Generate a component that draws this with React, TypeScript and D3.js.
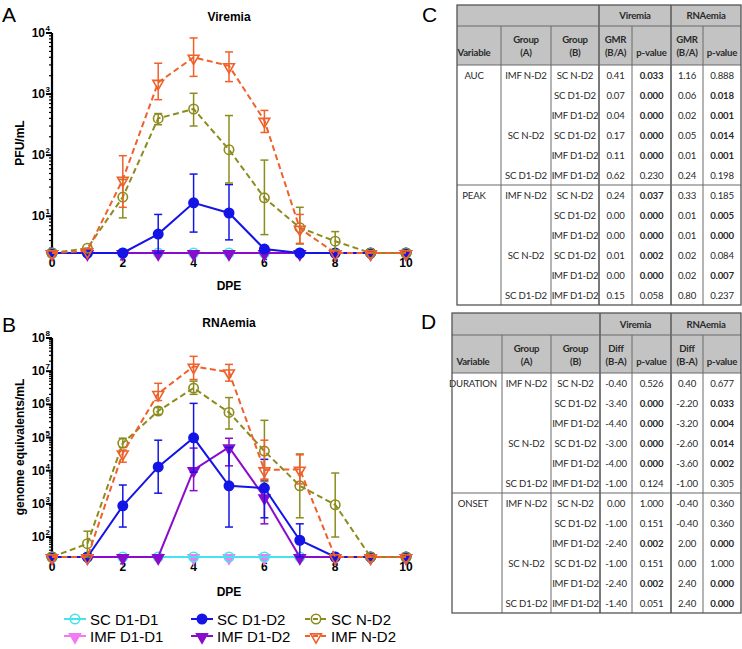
import React from 'react';
import * as d3 from 'd3';

// ---------- DATA ----------
const days = [0, 1, 2, 3, 4, 5, 6, 7, 8, 9, 10];
const LOD_A = 2.5;
const LOD_B = 25;

// Viremia (PFU/mL)
const virSCD1D1 = [2.5, 2.5, 2.5, 2.5, 2.5, 2.5, 2.5, 2.5, 2.5, 2.5, 2.5];
const virIMFD1D1 = [2.5, 2.5, 2.5, 2.5, 2.5, 2.5, 2.5, 2.5, 2.5, 2.5, 2.5];
const virSCD1D2 = [2.5, 2.5, 2.5, 5.1, 16.6, 11.3, 2.9, 2.5, 2.5, 2.5, 2.5];
const virSCD1D2Hi = [null, null, null, 10.7, 49, 33, 3.2, null, null, null, null];
const virSCD1D2Lo = [null, null, null, 2.5, 5.5, 4.1, 2.6, null, null, null, null];
const virIMFD1D2 = [2.5, 2.5, 2.5, 2.5, 2.5, 2.5, 2.5, 2.5, 2.5, 2.5, 2.5];
const virSCND2 = [2.5, 3, 20.6, 400, 570, 123, 20, 6.5, 3.9, 2.5, 2.5];
const virSCND2Hi = [null, null, 40, 480, 1030, 445, 83, 14, 5.6, null, null];
const virSCND2Lo = [null, null, 9.4, 315, 300, 35, 5, 3.5, 2.8, null, null];
const virIMFND2 = [2.5, 2.7, 40, 1550, 4000, 2900, 370, 6.3, 2.5, 2.5, 2.5];
const virIMFND2Hi = [null, null, 98, 3200, 8300, 4900, 540, 10.7, null, null, null];
const virIMFND2Lo = [null, null, 14, 810, 1950, 1600, 235, 3.6, null, null, null];

// RNAemia (genome equivalents/mL)
const rnaSCD1D1 = [25, 25, 25, 25, 25, 25, 25, 25, 25, 25, 25];
const rnaIMFD1D1 = [25, 25, 25, 25, 25, 25, 25, 25, 25, 25, 25];
const rnaSCD1D2 = [25, 25, 870, 13000, 98000, 3500, 3000, 80, 25, 25, 25];
const rnaSCD1D2Hi = [null, null, 3700, 83000, 1070000, 50000, 22000, 250, null, null, null];
const rnaSCD1D2Lo = [null, null, 200, 2100, 9000, 200, 380, 25, null, null, null];
const rnaIMFD1D2 = [25, 25, 25, 25, 10500, 51000, 1600, 25, 25, 25, 25];
const rnaIMFD1D2Hi = [null, null, null, null, 48000, 95000, 5200, null, null, null, null];
const rnaIMFD1D2Lo = [null, null, null, null, 2500, 14000, 250, null, null, null, null];
const rnaSCND2 = [25, 63, 68000, 630000, 3100000, 570000, 39000, 3500, 940, 25, 25];
const rnaSCND2Hi = [null, 150, 95000, 800000, 5000000, 1600000, 330000, 32000, 8500, null, null];
const rnaSCND2Lo = [null, 25, 50000, 500000, 2000000, 180000, 4700, 380, 100, null, null];
const rnaIMFND2 = [25, 25, 34000, 2100000, 14000000, 9400000, 10500, 11000, 25, 25, 25];
const rnaIMFND2Hi = [null, null, 42000, 4300000, 28000000, 16000000, 83000, 30000, null, null, null];
const rnaIMFND2Lo = [null, null, 18000, 1300000, 5600000, 5000000, 5600, 4000, null, null, null];

const xTickLabels = [0, 2, 4, 6, 8, 10];
const yMajorA = [1, 2, 3, 4];
const yMajorB = [2, 3, 4, 5, 6, 7, 8];

// Tables
const groupA = ['IMF N-D2', '', '', 'SC N-D2', '', 'SC D1-D2'];
const groupB = ['SC N-D2', 'SC D1-D2', 'IMF D1-D2', 'SC D1-D2', 'IMF D1-D2', 'IMF D1-D2'];
const tableCVariables = ['AUC', 'PEAK'];
const aucVirGMR = [0.41, 0.07, 0.04, 0.17, 0.11, 0.62];
const aucVirP = [0.033, 0.0, 0.0, 0.0, 0.0, 0.23];
const aucRnaGMR = [1.16, 0.06, 0.02, 0.05, 0.01, 0.24];
const aucRnaP = [0.888, 0.018, 0.001, 0.014, 0.001, 0.198];
const peakVirGMR = [0.24, 0.0, 0.0, 0.01, 0.0, 0.15];
const peakVirP = [0.037, 0.0, 0.0, 0.002, 0.0, 0.058];
const peakRnaGMR = [0.33, 0.01, 0.01, 0.02, 0.02, 0.8];
const peakRnaP = [0.185, 0.005, 0.0, 0.084, 0.007, 0.237];
const tableDVariables = ['DURATION', 'ONSET'];
const durVirDiff = [-0.4, -3.4, -4.4, -3.0, -4.0, -1.0];
const durVirP = [0.526, 0.0, 0.0, 0.0, 0.0, 0.124];
const durRnaDiff = [0.4, -2.2, -3.2, -2.6, -3.6, -1.0];
const durRnaP = [0.677, 0.033, 0.004, 0.014, 0.002, 0.305];
const onsVirDiff = [0.0, -1.0, -2.4, -1.0, -2.4, -1.4];
const onsVirP = [1.0, 0.151, 0.002, 0.151, 0.002, 0.051];
const onsRnaDiff = [-0.4, -0.4, 2.0, 0.0, 2.4, 2.4];
const onsRnaP = [0.36, 0.36, 0.0, 1.0, 0.0, 0.0];

// ---------- STYLE ----------
const C_CYAN = '#45e3ee';
const C_PINK = '#f27af2';
const C_BLUE = '#1414e6';
const C_PURPLE = '#8a0ccc';
const C_OLIVE = '#8c8c1e';
const C_ORANGE = '#f0602a';
const FONT = "'Liberation Sans', Arial, sans-serif";
const TFONT = "Lato, 'Open Sans', sans-serif";

type Shape = 'circle' | 'tri';
interface Series {
  name: string; color: string; dashed: boolean; shape: Shape; filled: boolean;
  mean: number[]; hi?: (number | null)[]; lo?: (number | null)[];
}

const seriesA: Series[] = [
  { name: 'IMF D1-D1', color: C_PINK, dashed: false, shape: 'tri', filled: true, mean: virIMFD1D1 },
  { name: 'SC D1-D1', color: C_CYAN, dashed: false, shape: 'circle', filled: false, mean: virSCD1D1 },
  { name: 'IMF D1-D2', color: C_PURPLE, dashed: false, shape: 'tri', filled: true, mean: virIMFD1D2 },
  { name: 'SC D1-D2', color: C_BLUE, dashed: false, shape: 'circle', filled: true, mean: virSCD1D2, hi: virSCD1D2Hi, lo: virSCD1D2Lo },
  { name: 'SC N-D2', color: C_OLIVE, dashed: true, shape: 'circle', filled: false, mean: virSCND2, hi: virSCND2Hi, lo: virSCND2Lo },
  { name: 'IMF N-D2', color: C_ORANGE, dashed: true, shape: 'tri', filled: false, mean: virIMFND2, hi: virIMFND2Hi, lo: virIMFND2Lo },
];
const seriesB: Series[] = [
  { name: 'IMF D1-D1', color: C_PINK, dashed: false, shape: 'tri', filled: true, mean: rnaIMFD1D1 },
  { name: 'SC D1-D1', color: C_CYAN, dashed: false, shape: 'circle', filled: false, mean: rnaSCD1D1 },
  { name: 'IMF D1-D2', color: C_PURPLE, dashed: false, shape: 'tri', filled: true, mean: rnaIMFD1D2, hi: rnaIMFD1D2Hi, lo: rnaIMFD1D2Lo },
  { name: 'SC D1-D2', color: C_BLUE, dashed: false, shape: 'circle', filled: true, mean: rnaSCD1D2, hi: rnaSCD1D2Hi, lo: rnaSCD1D2Lo },
  { name: 'SC N-D2', color: C_OLIVE, dashed: true, shape: 'circle', filled: false, mean: rnaSCND2, hi: rnaSCND2Hi, lo: rnaSCND2Lo },
  { name: 'IMF N-D2', color: C_ORANGE, dashed: true, shape: 'tri', filled: false, mean: rnaIMFND2, hi: rnaIMFND2Hi, lo: rnaIMFND2Lo },
];

const x = d3.scaleLinear().domain([0, 10]).range([52, 406]);
const yA = d3.scaleLog().domain([LOD_A, 1e4]).range([253, 33]);
const yB = d3.scaleLog().domain([LOD_B, 1e8]).range([557, 338]);

const triPath = d3.symbol(d3.symbolTriangle, 50)() as string;

function Marker({ s, cx, cy }: { s: Series; cx: number; cy: number }) {
  if (s.shape === 'circle') {
    return <circle cx={cx} cy={cy} r={4.7} fill={s.filled ? s.color : 'none'} stroke={s.color} strokeWidth={1.6} />;
  }
  return (
    <path d={triPath} transform={`translate(${cx},${cy + 1}) rotate(180)`}
      fill={s.filled ? s.color : 'none'} stroke={s.color} strokeWidth={1.6} />
  );
}

function Panel({ series, y, majors, yTitle, title, titleY, dpeY, yTitleCenter }:
  { series: Series[]; y: d3.ScaleLogarithmic<number, number>; majors: number[]; yTitle: string; title: string; titleY: number; dpeY: number; yTitleCenter: number }) {
  const [d0, d1] = y.domain();
  const base = y(d0);
  const minors: number[] = [];
  for (let e = Math.floor(Math.log10(d0)); e < Math.log10(d1); e++) {
    for (let m = 2; m <= 9; m++) {
      const v = m * Math.pow(10, e);
      if (v >= d0 && v < d1) minors.push(v);
    }
  }
  const line = d3.line<number>().x((_, i) => x(days[i])).y((d) => y(d));
  return (
    <g fontFamily={FONT}>
      <text x={229} y={titleY} textAnchor="middle" fontWeight="bold" fontSize={12}>{title}</text>
      {/* axes */}
      <line x1={52} x2={406} y1={base} y2={base} stroke="#000" strokeWidth={2} />
      <line x1={52} x2={52} y1={y(d1)} y2={base} stroke="#000" strokeWidth={2.2} />
      {minors.map((v, i) => (
        <line key={'m' + i} x1={49} x2={52} y1={y(v)} y2={y(v)} stroke="#000" strokeWidth={1.2} />
      ))}
      {majors.map((e) => (
        <g key={'M' + e}>
          <line x1={46} x2={52} y1={y(Math.pow(10, e))} y2={y(Math.pow(10, e))} stroke="#000" strokeWidth={2} />
          <text x={45} y={y(Math.pow(10, e)) + 4} textAnchor="end" fontWeight="bold" fontSize={12}>10</text>
          <text x={45.5} y={y(Math.pow(10, e)) - 2} fontWeight="bold" fontSize={8}>{e}</text>
        </g>
      ))}
      {xTickLabels.map((t) => (
        <text key={'x' + t} x={x(t)} y={base + 14} textAnchor="middle" fontWeight="bold" fontSize={12}>{t}</text>
      ))}
      <text x={229} y={dpeY} textAnchor="middle" fontWeight="bold" fontSize={12}>DPE</text>
      <text transform={`translate(24,${yTitleCenter}) rotate(-90)`} textAnchor="middle" fontWeight="bold" fontSize={12}>{yTitle}</text>
      {/* series */}
      {series.map((s) => (
        <g key={s.name}>
          {s.hi && s.mean.map((m, i) => {
            const h = s.hi![i];
            const l = s.lo ? s.lo[i] : null;
            if (h == null) return null;
            const yh = y(h);
            const yl = y(Math.max(l == null ? m : l, d0));
            const cx = x(days[i]);
            return (
              <g key={'e' + i} stroke={s.color} strokeWidth={1.5}>
                <line x1={cx} x2={cx} y1={yh} y2={yl} />
                <line x1={cx - 4} x2={cx + 4} y1={yh} y2={yh} />
                <line x1={cx - 4} x2={cx + 4} y1={yl} y2={yl} />
              </g>
            );
          })}
          <path d={line(s.mean) as string} fill="none" stroke={s.color} strokeWidth={2}
            strokeDasharray={s.dashed ? '6,3.5' : undefined} />
          {s.mean.map((m, i) => <Marker key={'p' + i} s={s} cx={x(days[i])} cy={y(m)} />)}
        </g>
      ))}
    </g>
  );
}

const legendCols: Series[][] = [
  [seriesA[1], seriesA[0]],
  [seriesA[3], seriesA[2]],
  [seriesA[4], seriesA[5]],
];
const legendX = [75, 202, 316];
const legendY = [619, 636];

function Legend() {
  return (
    <g fontFamily={FONT}>
      {legendCols.map((col, ci) => col.map((s, ri) => {
        const cx = legendX[ci];
        const cy = legendY[ri];
        return (
          <g key={s.name}>
            <line x1={cx - 11} x2={cx + 11} y1={cy} y2={cy} stroke={s.color} strokeWidth={2}
              strokeDasharray={s.dashed ? '5,3' : undefined} />
            <Marker s={s} cx={cx} cy={cy} />
            <text x={cx + 15} y={cy + 5.5} fontSize={15}>{s.name}</text>
          </g>
        );
      }))}
    </g>
  );
}

const fmt2 = (v: number) => v.toFixed(2);
const fmt3 = (v: number) => v.toFixed(3);

interface Section { variable: string; v1: number[]; p1: number[]; v2: number[]; p2: number[] }

function Table({ cols, top, h1, h2, rowH, sections, measure, measureSub, varCenter }:
  { cols: number[]; top: number; h1: number; h2: number; rowH: number; sections: Section[]; measure: string; measureSub: string; varCenter: number }) {
  const y1 = top + h1;
  const y2 = y1 + h2;
  const bottom = y2 + sections.length * 6 * rowH;
  const cc = (i: number) => (cols[i] + cols[i + 1]) / 2;
  const grid = '#6b6b6b';
  const tc = '#2a2a2a';
  return (
    <g fontFamily={TFONT} fontSize={9.6} fill={tc} letterSpacing={-0.2}>
      <rect x={cols[0]} y={top} width={cols[7] - cols[0]} height={h1 + h2} fill="#c3c3c3" />
      <text x={(cols[3] + cols[5]) / 2} y={top + h1 / 2 + 3.5} textAnchor="middle" fontWeight="bold">Viremia</text>
      <text x={(cols[5] + cols[7]) / 2} y={top + h1 / 2 + 3.5} textAnchor="middle" fontWeight="bold">RNAemia</text>
      <text x={varCenter} y={y1 + 29.5} textAnchor="middle" fontWeight="bold">Variable</text>
      <text x={cc(1)} y={y1 + 16.5} textAnchor="middle" fontWeight="bold">Group</text>
      <text x={cc(1)} y={y1 + 29.5} textAnchor="middle" fontWeight="bold">(A)</text>
      <text x={cc(2)} y={y1 + 16.5} textAnchor="middle" fontWeight="bold">Group</text>
      <text x={cc(2)} y={y1 + 29.5} textAnchor="middle" fontWeight="bold">(B)</text>
      <text x={cc(3)} y={y1 + 16.5} textAnchor="middle" fontWeight="bold">{measure}</text>
      <text x={cc(3)} y={y1 + 29.5} textAnchor="middle" fontWeight="bold">{measureSub}</text>
      <text x={cc(4)} y={y1 + 29.5} textAnchor="middle" fontWeight="bold">p-value</text>
      <text x={cc(5)} y={y1 + 16.5} textAnchor="middle" fontWeight="bold">{measure}</text>
      <text x={cc(5)} y={y1 + 29.5} textAnchor="middle" fontWeight="bold">{measureSub}</text>
      <text x={cc(6)} y={y1 + 29.5} textAnchor="middle" fontWeight="bold">p-value</text>
      {sections.map((sec, si) => {
        const sy = y2 + si * 6 * rowH;
        return (
          <g key={sec.variable}>
            {si > 0 && <line x1={cols[0]} x2={cols[7]} y1={sy} y2={sy} stroke={grid} strokeWidth={1.2} />}
            {groupB.map((gb, r) => {
              const ty = sy + r * rowH + rowH / 2 + 3.5;
              return (
                <g key={r}>
                  {r === 0 && <text x={varCenter} y={ty} textAnchor="middle">{sec.variable}</text>}
                  {groupA[r] && <text x={cc(1)} y={ty} textAnchor="middle">{groupA[r]}</text>}
                  <text x={cc(2)} y={ty} textAnchor="middle">{gb}</text>
                  <text x={cc(3)} y={ty} textAnchor="middle">{fmt2(sec.v1[r])}</text>
                  <text x={cc(4)} y={ty} textAnchor="middle" fontWeight={sec.p1[r] < 0.05 ? 'bold' : 'normal'}>{fmt3(sec.p1[r])}</text>
                  <text x={cc(5)} y={ty} textAnchor="middle">{fmt2(sec.v2[r])}</text>
                  <text x={cc(6)} y={ty} textAnchor="middle" fontWeight={sec.p2[r] < 0.05 ? 'bold' : 'normal'}>{fmt3(sec.p2[r])}</text>
                </g>
              );
            })}
          </g>
        );
      })}
      {/* grid */}
      <line x1={cols[0]} x2={cols[7]} y1={y1} y2={y1} stroke={grid} strokeWidth={1.2} />
      <line x1={cols[0]} x2={cols[7]} y1={y2} y2={y2} stroke={grid} strokeWidth={1.2} />
      {[1, 2, 4, 6].map((i) => (
        <line key={'v' + i} x1={cols[i]} x2={cols[i]} y1={y1} y2={bottom} stroke={grid} strokeWidth={1} />
      ))}
      {[3, 5].map((i) => (
        <line key={'V' + i} x1={cols[i]} x2={cols[i]} y1={top} y2={bottom} stroke={grid} strokeWidth={1.8} />
      ))}
      <rect x={cols[0]} y={top} width={cols[7] - cols[0]} height={bottom - top} fill="none" stroke="#555" strokeWidth={1.3} />
    </g>
  );
}

export default function App() {
  const sectionsC: Section[] = [
    { variable: tableCVariables[0], v1: aucVirGMR, p1: aucVirP, v2: aucRnaGMR, p2: aucRnaP },
    { variable: tableCVariables[1], v1: peakVirGMR, p1: peakVirP, v2: peakRnaGMR, p2: peakRnaP },
  ];
  const sectionsD: Section[] = [
    { variable: tableDVariables[0], v1: durVirDiff, p1: durVirP, v2: durRnaDiff, p2: durRnaP },
    { variable: tableDVariables[1], v1: onsVirDiff, p1: onsVirP, v2: onsRnaDiff, p2: onsRnaP },
  ];
  return (
    <svg width={742} height={649} style={{ position: 'absolute', left: 0, top: 0, background: '#fff' }}>
      <rect width={742} height={649} fill="#fff" />
      <text x={2} y={22} fontFamily={FONT} fontSize={21}>A</text>
      <text x={2} y={332} fontFamily={FONT} fontSize={21}>B</text>
      <text x={422} y={22} fontFamily={FONT} fontSize={21}>C</text>
      <text x={421} y={329} fontFamily={FONT} fontSize={21}>D</text>
      <Panel series={seriesA} y={yA} majors={yMajorA} yTitle="PFU/mL" title="Viremia" titleY={21} dpeY={290} yTitleCenter={143} />
      <Panel series={seriesB} y={yB} majors={yMajorB} yTitle="genome equivalents/mL" title="RNAemia" titleY={327} dpeY={596} yTitleCenter={447} />
      <Legend />
      <Table cols={[457, 501, 551, 599, 632, 671, 703, 741]} top={5} h1={21} h2={39} rowH={20}
        sections={sectionsC} measure="GMR" measureSub="(B/A)" varCenter={474} />
      <Table cols={[452, 502, 551, 600, 632, 671, 703, 741]} top={313} h1={22} h2={38} rowH={20}
        sections={sectionsD} measure="Diff" measureSub="(B-A)" varCenter={473} />
    </svg>
  );
}
